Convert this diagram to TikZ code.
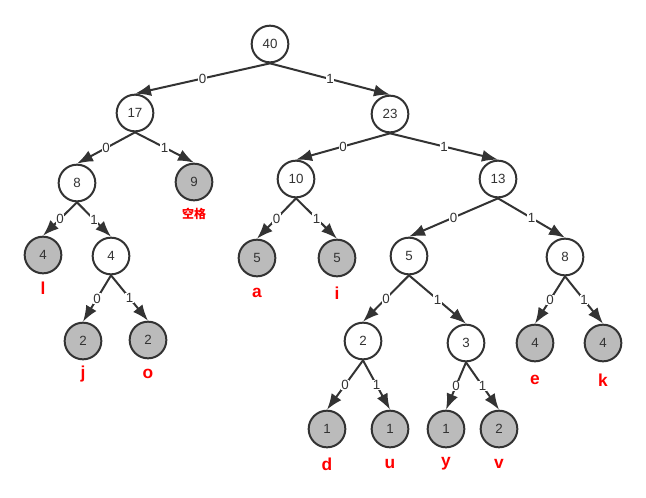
\documentclass[tikz,border=0pt]{standalone}
\usepackage{fontspec}
\setmainfont{Liberation Sans}
\newfontfamily\cjk{Noto Sans CJK SC}
\usetikzlibrary{arrows.meta}
\definecolor{edgegray}{HTML}{333333}
\definecolor{leafgray}{HTML}{BBBBBB}

\begin{document}
\begin{tikzpicture}[
    x=0.75pt, y=-0.75pt,
    inner/.style={circle, draw=edgegray, fill=white, text=edgegray, line width=1.5pt, minimum size=27.5pt, inner sep=0pt, font=\normalsize},
    leaf/.style={inner, fill=leafgray},
    letter/.style={text=red, font=\fontsize{13}{15}\selectfont\bfseries},
    flow/.style={draw=edgegray, line width=1.5pt, -{Latex[length=12pt, width=9pt]}},
    bit/.style={midway, fill=white, inner sep=0.5pt, text=edgegray, font=\normalsize}
]
\useasboundingbox (0,0) rectangle (646,497);

\node[inner] (n40) at (270,44) {40};
\node[inner] (n17) at (135,113) {17};
\node[inner] (n23) at (390,114) {23};
\node[inner] (n8a) at (77,183) {8};
\node[leaf] (n9) at (194,182) {9};
\node[inner] (n10) at (296,179) {10};
\node[inner] (n13) at (498,179) {13};
\node[leaf] (n4l) at (43,255) {4};
\node[inner] (n4) at (111,256) {4};
\node[leaf] (n5a) at (257,258) {5};
\node[leaf] (n5i) at (337,258) {5};
\node[inner] (n5) at (409,256) {5};
\node[inner] (n8b) at (565,257) {8};
\node[leaf] (n2j) at (83,341) {2};
\node[leaf] (n2o) at (148,340) {2};
\node[inner] (n2) at (363,341) {2};
\node[inner] (n3) at (466,343) {3};
\node[leaf] (n4e) at (535,343) {4};
\node[leaf] (n4k) at (603,343) {4};
\node[leaf] (n1d) at (327,429) {1};
\node[leaf] (n1u) at (390,429) {1};
\node[leaf] (n1y) at (446,429) {1};
\node[leaf] (n2v) at (499,429) {2};

% letters under the leaves
\node[text=red, font=\cjk\small\bfseries] (space) at (194,214) {空格};
\node[letter] (ll) at (43,288) {l};
\node[letter] (la) at (257,293) {a};
\node[letter] (li) at (337,293) {i};
\node[letter] (lj) at (83,374) {j};
\node[letter] (lo) at (148,374) {o};
\node[letter] (le) at (535,380) {e};
\node[letter] (lk) at (603,380) {k};
\node[letter] (ld) at (327,464) {d};
\node[letter] (lu) at (390,464) {u};
\node[letter] (ly) at (446,464) {y};
\node[letter] (lv) at (499,464) {v};

\draw[flow] (n40.south) -- node[bit] {0} (n17.north);
\draw[flow] (n40.south) -- node[bit] {1} (n23.north);
\draw[flow] (n17.south) -- node[bit] {0} (n8a.north);
\draw[flow] (n17.south) -- node[bit] {1} (n9.north);
\draw[flow] (n23.south) -- node[bit] {0} (n10.north);
\draw[flow] (n23.south) -- node[bit] {1} (n13.north);
\draw[flow] (n8a.south) -- node[bit] {0} (n4l.north);
\draw[flow] (n8a.south) -- node[bit] {1} (n4.north);
\draw[flow] (n10.south) -- node[bit] {0} (n5a.north);
\draw[flow] (n10.south) -- node[bit] {1} (n5i.north);
\draw[flow] (n13.south) -- node[bit] {0} (n5.north);
\draw[flow] (n13.south) -- node[bit] {1} (n8b.north);
\draw[flow] (n4.south) -- node[bit] {0} (n2j.north);
\draw[flow] (n4.south) -- node[bit] {1} (n2o.north);
\draw[flow] (n5.south) -- node[bit] {0} (n2.north);
\draw[flow] (n5.south) -- node[bit] {1} (n3.north);
\draw[flow] (n8b.south) -- node[bit] {0} (n4e.north);
\draw[flow] (n8b.south) -- node[bit] {1} (n4k.north);
\draw[flow] (n2.south) -- node[bit] {0} (n1d.north);
\draw[flow] (n2.south) -- node[bit] {1} (n1u.north);
\draw[flow] (n3.south) -- node[bit] {0} (n1y.north);
\draw[flow] (n3.south) -- node[bit] {1} (n2v.north);
\end{tikzpicture}
\end{document}
